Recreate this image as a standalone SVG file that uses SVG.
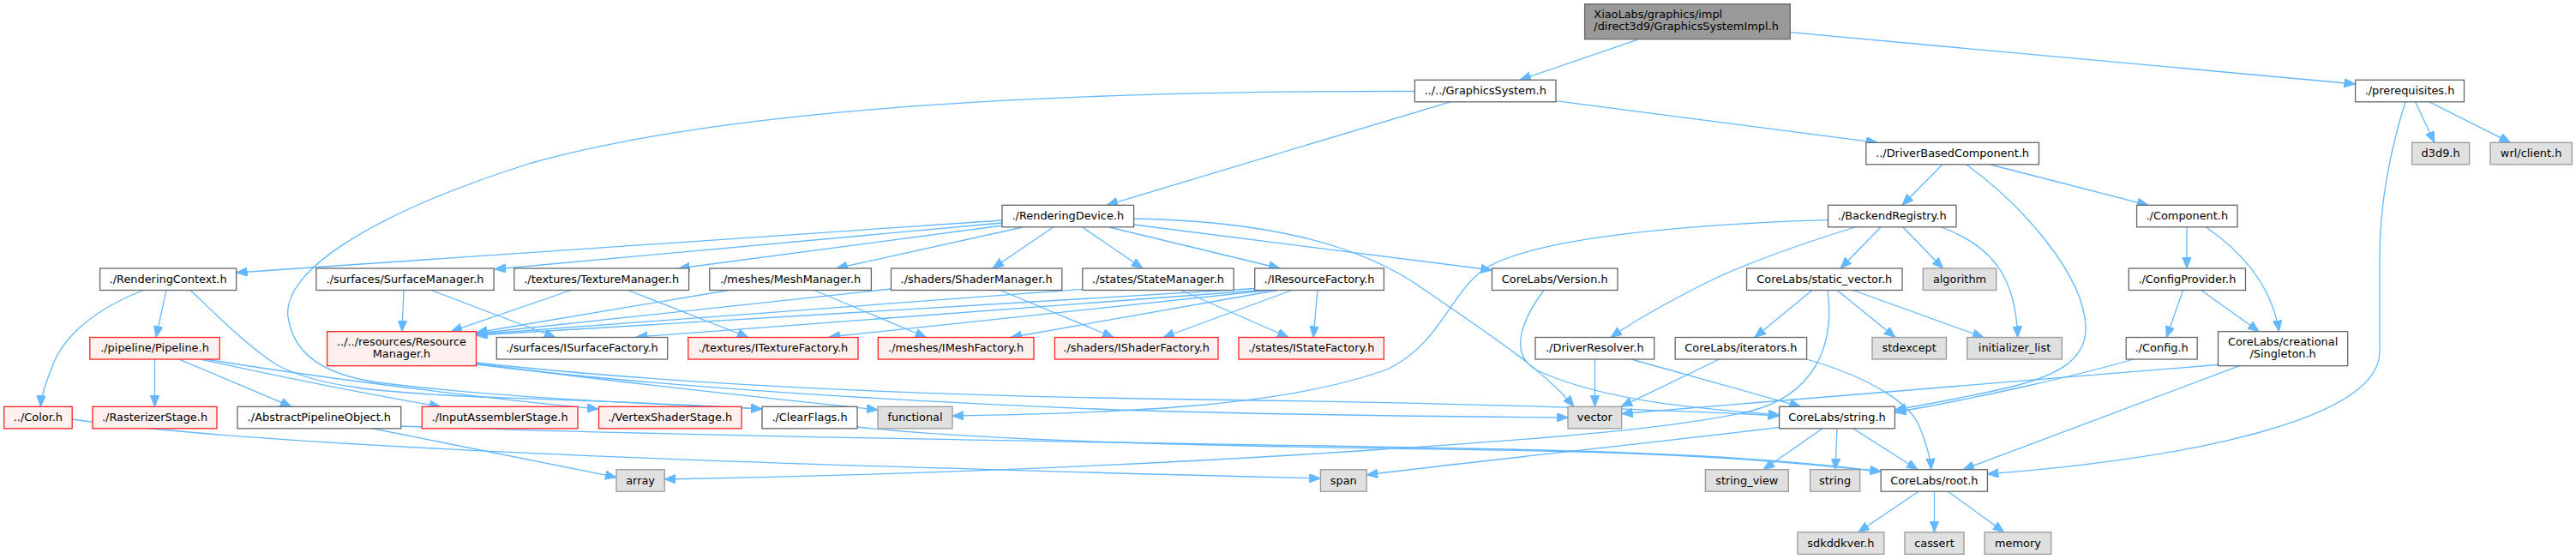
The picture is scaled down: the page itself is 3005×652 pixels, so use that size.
<svg xmlns="http://www.w3.org/2000/svg" width="3005" height="652" viewBox="0 0 3005 652">
<style>
text{font-family:"DejaVu Sans","Liberation Sans",sans-serif;font-size:12.9px;fill:#000;text-anchor:middle}
.n{fill:#fff;stroke:#666;stroke-width:1.3}
.r{fill:#fff0f0;stroke:#ff2020;stroke-width:1.3}
.g{fill:#e0e0e0;stroke:#999;stroke-width:1.3}
.t{fill:#999;stroke:#666;stroke-width:1.3}
.e path{fill:none;stroke:#63b8ff;stroke-width:1.3;marker-end:url(#ah)}
</style>
<defs>
<marker id="ah" markerUnits="userSpaceOnUse" markerWidth="14" markerHeight="11" refX="13" refY="5.2" orient="auto"><path d="M0,0 L13,5.2 L0,10.4 Z" fill="#63b8ff" stroke="#63b8ff" stroke-width="1"/></marker>
</defs>
<rect width="3005" height="652" fill="#fff"/>
<g class="e" id="edges">
<path d="M1912,45.7 L1773,93.3"/>
<path d="M2088,37.7 L2747.6,98"/>
<path d="M1693.5,118.3 L1291,239.3"/>
<path d="M1814.6,117.7 L2190,166.3"/>
<path d="M1650.4,106.5 C1400,106 900,112 620,190 C430,250 322,320 337,375 C345,415 380,437 440,446 C600,466 790,472 889,477"/>
<path d="M194,338.3 L182,393.3"/>
<path d="M166,339 C100,365 70,400 60,430 C52,450 48,462 47.4,474.3"/>
<path d="M222,338.3 C250,365 290,405 322,425 C370,452 450,458 560,463 C700,468 820,472 889,477"/>
<path d="M180.5,419.3 L180.5,474.3"/>
<path d="M209.6,419.3 L340,474.3"/>
<path d="M235.3,419.3 C330,440 430,460 514,474.3"/>
<path d="M240,419 C400,445 600,468 698,477"/>
<path d="M84.2,489 C300,520 800,540 1540.4,558"/>
<path d="M433,499.5 L719,556.7"/>
<path d="M467.8,497 C900,512 1500,518 1800,525 C2000,530 2120,540 2194.2,550"/>
<path d="M1000,498 C1200,520 1600,522 1800,526 C2000,530 2120,542 2194.2,550"/>
<path d="M471,338.5 L469,386.7"/>
<path d="M503,338.5 L648,393.5"/>
<path d="M666,338.5 L526,386.7"/>
<path d="M732.6,338.5 L873,393.5"/>
<path d="M850,338.5 L555.5,388"/>
<path d="M950,338.5 L1080.5,393.5"/>
<path d="M1039.5,337 L555.5,389"/>
<path d="M1167,338.5 L1299,393.5"/>
<path d="M1262.9,337.3 L555.5,390"/>
<path d="M1377.8,338.5 L1503,393.5"/>
<path d="M1463.7,336.5 L555.5,391"/>
<path d="M1470,338.5 L742.5,393"/>
<path d="M1480,338.5 L967,393"/>
<path d="M1490,338.5 L1179,393.5"/>
<path d="M1507,338.5 L1357,393.5"/>
<path d="M1537,338.5 L1532,393.5"/>
<path d="M1169,257 L275.6,318"/>
<path d="M1169,260 L577,314"/>
<path d="M1169.4,263 L791.8,313"/>
<path d="M1193,265 L975.6,313"/>
<path d="M1228.7,265 L1158,313"/>
<path d="M1262.7,265 L1333,313"/>
<path d="M1294,265 L1493,313"/>
<path d="M1322.6,262 L1740.5,315"/>
<path d="M1322.6,255 C1480,258 1580,285 1650,330 C1730,385 1800,430 1836,474.3"/>
<path d="M1801,338.5 C1770,380 1760,420 1800,435 C1880,470 2000,478 2075.6,484"/>
<path d="M2265.8,192 L2219,239.3"/>
<path d="M2322,192 L2506,239.3"/>
<path d="M2294,192 C2360,240 2430,320 2433,380 C2435,420 2400,440 2330,455 C2280,466 2240,473 2210.4,478"/>
<path d="M2551,265 L2551,313"/>
<path d="M2573.6,265 C2610,290 2650,330 2658.5,386.7"/>
<path d="M2546.6,338.5 L2527.3,393.5"/>
<path d="M2567.8,338.5 L2635.3,386.7"/>
<path d="M2489,419 C2430,436 2320,462 2210.4,481"/>
<path d="M2592,425 C2350,445 2100,466 1891.7,482.5"/>
<path d="M2612.5,426.7 L2290,547.7"/>
<path d="M2817.5,118.8 L2840,166.3"/>
<path d="M2834,118.8 L2928.5,166.3"/>
<path d="M2806,118.8 C2790,170 2776,230 2776,300 L2776,410 C2776,490 2550,535 2318.4,553"/>
<path d="M2132.5,256.7 C1950,262 1780,280 1730,315 C1690,345 1680,400 1620,430 C1500,475 1300,482 1111,485"/>
<path d="M2163.8,265 C2100,285 2030,310 1990,330 C1950,350 1910,372 1879,393.5"/>
<path d="M2194,265 L2147,313"/>
<path d="M2220,265 L2266.6,313"/>
<path d="M2264.6,265 C2320,285 2352,320 2353.6,393.5"/>
<path d="M2114,338.5 L2047,393.5"/>
<path d="M2143,338.5 L2211,393.5"/>
<path d="M2161.8,338.5 L2314,393.5"/>
<path d="M2132,338.5 C2140,400 2120,460 2040,480 C1950,500 1800,512 1600,525 C1300,545 1000,555 775.2,559"/>
<path d="M2005.7,419 L1891,474.3"/>
<path d="M2107.6,419 C2180,440 2230,470 2240,500 C2248,520 2252,535 2252.8,547.7"/>
<path d="M1860.5,419 L1860.5,474.3"/>
<path d="M1902.8,419 L2100.5,474.3"/>
<path d="M2126,499.8 L2057,547.7"/>
<path d="M2143,499.8 L2141,547.7"/>
<path d="M2161.8,499.8 L2237,547.7"/>
<path d="M2075.6,498.3 C1900,520 1700,540 1594.2,554"/>
<path d="M2238,573.2 L2167.7,620.8"/>
<path d="M2256.5,573.2 L2256.5,620.8"/>
<path d="M2272.5,573.2 L2337.8,620.8"/>
<path d="M555.5,424 C750,450 930,468 1024,478"/>
<path d="M555.5,425 C800,455 1100,470 1300,478 C1500,484 1700,486 1829,487"/>
<path d="M555.5,423 C800,450 1100,462 1400,466 C1700,470 1950,478 2075.6,485"/>
</g>
<g id="n_top"><rect class="t" x="1848.6" y="4.7" width="239.7" height="41"/><text x="1859.3" y="21" style="text-anchor:start">XiaoLabs/graphics/impl</text><text x="1859.3" y="35" style="text-anchor:start">/direct3d9/GraphicsSystemImpl.h</text></g>
<g id="n_gs"><rect class="n" x="1650.4" y="93.3" width="164.6" height="25.5"/><text x="1732.7" y="110.1">../../GraphicsSystem.h</text></g>
<g id="n_prereq"><rect class="n" x="2747.6" y="93.3" width="126.9" height="25.5"/><text x="2811" y="110.1">./prerequisites.h</text></g>
<g id="n_dbc"><rect class="n" x="2176.8" y="166.3" width="201.7" height="25.5"/><text x="2277.6" y="183.1">../DriverBasedComponent.h</text></g>
<g id="n_d3d9"><rect class="g" x="2813.6" y="166.3" width="67.1" height="25.5"/><text x="2847.1" y="183.1">d3d9.h</text></g>
<g id="n_wrl"><rect class="g" x="2905" y="166.3" width="95.3" height="25.5"/><text x="2952.6" y="183.1">wrl/client.h</text></g>
<g id="n_rdev"><rect class="n" x="1169" y="239.3" width="153.6" height="25.5"/><text x="1245.8" y="256.1">./RenderingDevice.h</text></g>
<g id="n_breg"><rect class="n" x="2132.5" y="239.3" width="149.5" height="25.5"/><text x="2207.2" y="256.1">./BackendRegistry.h</text></g>
<g id="n_comp"><rect class="n" x="2492.6" y="239.3" width="117.4" height="25.5"/><text x="2551.3" y="256.1">./Component.h</text></g>
<g id="n_rctx"><rect class="n" x="116.6" y="313" width="159" height="25.5"/><text x="196.1" y="329.8">./RenderingContext.h</text></g>
<g id="n_surfm"><rect class="n" x="368.9" y="313" width="207.2" height="25.5"/><text x="472.5" y="329.8">./surfaces/SurfaceManager.h</text></g>
<g id="n_texm"><rect class="n" x="599.8" y="313" width="203.8" height="25.5"/><text x="701.7" y="329.8">./textures/TextureManager.h</text></g>
<g id="n_meshm"><rect class="n" x="827.8" y="313" width="188.6" height="25.5"/><text x="922.1" y="329.8">./meshes/MeshManager.h</text></g>
<g id="n_shm"><rect class="n" x="1039.5" y="313" width="199.3" height="25.5"/><text x="1139.1" y="329.8">./shaders/ShaderManager.h</text></g>
<g id="n_stm"><rect class="n" x="1262.9" y="313" width="176.3" height="25.5"/><text x="1351" y="329.8">./states/StateManager.h</text></g>
<g id="n_irf"><rect class="n" x="1463.7" y="313" width="150.7" height="25.5"/><text x="1539" y="329.8">./IResourceFactory.h</text></g>
<g id="n_ver"><rect class="n" x="1740.5" y="313" width="146.5" height="25.5"/><text x="1813.7" y="329.8">CoreLabs/Version.h</text></g>
<g id="n_svec"><rect class="n" x="2037.6" y="313" width="181.5" height="25.5"/><text x="2128.3" y="329.8">CoreLabs/static_vector.h</text></g>
<g id="n_algo"><rect class="g" x="2243.3" y="313" width="85.4" height="25.5"/><text x="2286" y="329.8">algorithm</text></g>
<g id="n_cprov"><rect class="n" x="2483.3" y="313" width="136.2" height="25.5"/><text x="2551.4" y="329.8">./ConfigProvider.h</text></g>
<g id="n_pipe"><rect class="r" x="104.8" y="393.5" width="151.4" height="25.5"/><text x="180.5" y="410.3">./pipeline/Pipeline.h</text></g>
<g id="n_resm"><rect class="r" x="381.6" y="386.7" width="173.9" height="40"/><text x="468.5" y="403.3">../../resources/Resource</text><text x="468.5" y="417.3">Manager.h</text></g>
<g id="n_isf"><rect class="n" x="579.3" y="393.5" width="199.4" height="25.5"/><text x="679" y="410.3">./surfaces/ISurfaceFactory.h</text></g>
<g id="n_itf"><rect class="r" x="802.8" y="393.5" width="198.2" height="25.5"/><text x="901.9" y="410.3">./textures/ITextureFactory.h</text></g>
<g id="n_imf"><rect class="r" x="1024.3" y="393.5" width="181.7" height="25.5"/><text x="1115.1" y="410.3">./meshes/IMeshFactory.h</text></g>
<g id="n_ishf"><rect class="r" x="1230.4" y="393.5" width="190.6" height="25.5"/><text x="1325.7" y="410.3">./shaders/IShaderFactory.h</text></g>
<g id="n_istf"><rect class="r" x="1445" y="393.5" width="169.4" height="25.5"/><text x="1529.7" y="410.3">./states/IStateFactory.h</text></g>
<g id="n_dres"><rect class="n" x="1791" y="393.5" width="138.7" height="25.5"/><text x="1860.3" y="410.3">./DriverResolver.h</text></g>
<g id="n_iter"><rect class="n" x="1954.2" y="393.5" width="153.4" height="25.5"/><text x="2030.9" y="410.3">CoreLabs/iterators.h</text></g>
<g id="n_stdex"><rect class="g" x="2184" y="393.5" width="86.5" height="25.5"/><text x="2227.2" y="410.3">stdexcept</text></g>
<g id="n_init"><rect class="g" x="2294.7" y="393.5" width="110.7" height="25.5"/><text x="2350" y="410.3">initializer_list</text></g>
<g id="n_cfg"><rect class="n" x="2480.2" y="393.5" width="83" height="25.5"/><text x="2521.7" y="410.3">./Config.h</text></g>
<g id="n_single"><rect class="n" x="2587.5" y="386.7" width="151.2" height="40"/><text x="2663.1" y="403.3">CoreLabs/creational</text><text x="2663.1" y="417.3">/Singleton.h</text></g>
<g id="n_color"><rect class="r" x="4.7" y="474.3" width="79.5" height="25.5"/><text x="44.4" y="491.1">../Color.h</text></g>
<g id="n_rast"><rect class="r" x="108" y="474.3" width="145" height="25.5"/><text x="180.5" y="491.1">./RasterizerStage.h</text></g>
<g id="n_apo"><rect class="n" x="277" y="474.3" width="190.8" height="25.5"/><text x="372.4" y="491.1">./AbstractPipelineObject.h</text></g>
<g id="n_ias"><rect class="r" x="492.3" y="474.3" width="181.7" height="25.5"/><text x="583.1" y="491.1">./InputAssemblerStage.h</text></g>
<g id="n_vss"><rect class="r" x="698.5" y="474.3" width="166.5" height="25.5"/><text x="781.7" y="491.1">./VertexShaderStage.h</text></g>
<g id="n_clr"><rect class="n" x="889" y="474.3" width="111" height="25.5"/><text x="944.5" y="491.1">./ClearFlags.h</text></g>
<g id="n_func"><rect class="g" x="1024" y="474.3" width="87" height="25.5"/><text x="1067.5" y="491.1">functional</text></g>
<g id="n_vec"><rect class="g" x="1829" y="474.3" width="62.7" height="25.5"/><text x="1860.3" y="491.1">vector</text></g>
<g id="n_str"><rect class="n" x="2075.6" y="474.3" width="134.8" height="25.5"/><text x="2143" y="491.1">CoreLabs/string.h</text></g>
<g id="n_arr"><rect class="g" x="719" y="547.7" width="56.2" height="25.5"/><text x="747.1" y="564.5">array</text></g>
<g id="n_span"><rect class="g" x="1540.4" y="547.7" width="53.8" height="25.5"/><text x="1567.3" y="564.5">span</text></g>
<g id="n_sv"><rect class="g" x="1989.4" y="547.7" width="96.9" height="25.5"/><text x="2037.8" y="564.5">string_view</text></g>
<g id="n_string"><rect class="g" x="2111.6" y="547.7" width="58.1" height="25.5"/><text x="2140.6" y="564.5">string</text></g>
<g id="n_root"><rect class="n" x="2194.2" y="547.7" width="124.2" height="25.5"/><text x="2256.3" y="564.5">CoreLabs/root.h</text></g>
<g id="n_sdk"><rect class="g" x="2097" y="620.8" width="100.8" height="25.5"/><text x="2147.4" y="637.6">sdkddkver.h</text></g>
<g id="n_cass"><rect class="g" x="2222" y="620.8" width="69" height="25.5"/><text x="2256.5" y="637.6">cassert</text></g>
<g id="n_mem"><rect class="g" x="2315.2" y="620.8" width="77.5" height="25.5"/><text x="2354" y="637.6">memory</text></g>
</svg>
